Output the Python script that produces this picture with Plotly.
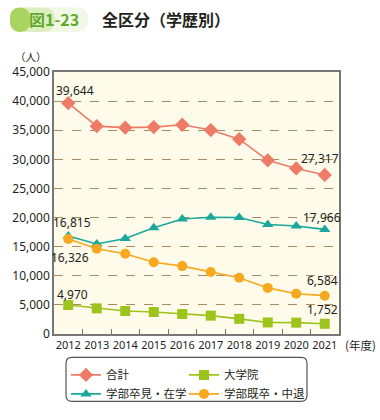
import plotly.graph_objects as go

years = ["2012", "2013", "2014", "2015", "2016", "2017", "2018", "2019", "2020", "2021"]
total = [39644, 35700, 35440, 35540, 35940, 35030, 33470, 29830, 28440, 27317]
graduate = [4970, 4400, 3940, 3780, 3440, 3150, 2600, 1980, 1950, 1752]
undergrad_new = [16815, 15470, 16410, 18250, 19760, 20050, 20000, 18820, 18540, 17966]
undergrad_old = [16326, 14630, 13790, 12330, 11660, 10650, 9650, 7920, 6910, 6584]

names = ["合計", "大学院", "学部卒見・在学", "学部既卒・中退"]
legend_ids = ["legend", "legend2", "legend", "legend2"]
colors = ["#EE7B66", "#9DC41C", "#1AA89C", "#F6A91E"]
symbols = ["diamond", "square", "triangle-up", "circle"]
sizes = [11, 10, 10, 10]
series = [total, graduate, undergrad_new, undergrad_old]

FONT = "Noto Sans CJK JP"
NUMFONT = "Noto Sans"
TXT = "#231F20"

W, H = 380, 420
l, r, t, b = 54, 41, 72, 80
pw, ph = W - l - r, H - t - b
def px(x): return (x - l) / pw        # page x -> paper
def py(y): return (H - b - y) / ph    # page y -> paper

fig = go.Figure()
for nm, lg, c, s, sz, vals in zip(names, legend_ids, colors, symbols, sizes, series):
    fig.add_trace(go.Scatter(
        x=years, y=vals, name=nm, mode="lines+markers", legend=lg,
        line=dict(color=c, width=1.6),
        marker=dict(color=c, symbol=s, size=sz),
        hoverinfo="skip",
    ))

def fmt(v):
    return f"{v:,}"

first, last = 0, len(years) - 1
labels = [
    (first, total[0], 7, 13),
    (last, total[-1], -5, 16),
    (first, undergrad_new[0], 4, 14),
    (first, undergrad_old[0], 2, -19),
    (last, undergrad_new[-1], -3, 12),
    (last, undergrad_old[-1], -2, 15),
    (last, graduate[-1], -2, 14),
    (first, graduate[0], 4, 11),
]
ann = []
for x, y, xs, ys in labels:
    ann.append(dict(x=x, y=y, xref="x", yref="y", text=fmt(y), showarrow=False,
                    xshift=xs, yshift=ys,
                    font=dict(family=NUMFONT, size=12, color=TXT)))

ann += [
    dict(xref="paper", yref="paper", x=px(31), y=py(56), xanchor="center", yanchor="middle",
         text="（人）", showarrow=False, font=dict(family=FONT, size=10.5, color=TXT)),
    dict(xref="paper", yref="paper", x=px(378), y=py(351), xanchor="right", yanchor="middle",
         text="(年度)", showarrow=False, font=dict(family=FONT, size=11.5, color=TXT)),
    dict(xref="paper", yref="paper", x=px(27), y=py(18), xanchor="left", yanchor="middle",
         text="<b>図1-23</b>", showarrow=False, font=dict(family=FONT, size=16, color="#5DAA2C")),
    dict(xref="paper", yref="paper", x=px(100), y=py(18), xanchor="left", yanchor="middle",
         text="<b>全区分（学歴別）</b>", showarrow=False, font=dict(family=FONT, size=16, color=TXT)),
]

leg_common = dict(orientation="v", yanchor="top", xanchor="left", bgcolor="rgba(0,0,0,0)",
                  font=dict(family=FONT, size=11.5, color=TXT), itemwidth=30,
                  tracegroupgap=0, borderwidth=0)

def rrect(x0, y0, x1, y1, rad):
    return (f"M {px(x0+rad)},{py(y0)} L {px(x1-rad)},{py(y0)} Q {px(x1)},{py(y0)} {px(x1)},{py(y0+rad)} "
            f"L {px(x1)},{py(y1-rad)} Q {px(x1)},{py(y1)} {px(x1-rad)},{py(y1)} "
            f"L {px(x0+rad)},{py(y1)} Q {px(x0)},{py(y1)} {px(x0)},{py(y1-rad)} "
            f"L {px(x0)},{py(y0+rad)} Q {px(x0)},{py(y0)} {px(x0+rad)},{py(y0)} Z")

shapes = [
    dict(type="path", xref="paper", yref="paper", path=rrect(66, 364, 307, 409, 6),
         line=dict(color="#555", width=1.2), fillcolor="rgba(0,0,0,0)"),
    dict(type="path", xref="paper", yref="paper", layer="below",
         path=rrect(10, 6, 88, 31, 12), line=dict(width=0), fillcolor="#F1F8E6"),
    dict(type="path", xref="paper", yref="paper", layer="below",
         path=rrect(10, 6, 55, 31, 12), line=dict(width=0), fillcolor="#DDEEC0"),
    dict(type="path", xref="paper", yref="paper", layer="below",
         path=rrect(10, 6, 30, 31, 11), line=dict(width=0), fillcolor="#A9D462"),
]

fig.update_layout(
    width=W, height=H,
    margin=dict(l=l, r=r, t=t, b=b),
    paper_bgcolor="white",
    plot_bgcolor="#FEFBEA",
    font=dict(family=FONT, size=12, color=TXT),
    showlegend=True,
    hovermode=False,
    legend=dict(x=px(66), y=py(367), **leg_common),
    legend2=dict(x=px(184), y=py(367), **leg_common),
    xaxis=dict(type="category", tickson="boundaries", ticks="inside", ticklen=5,
               tickcolor="#777", showgrid=False, showline=True, linecolor="#777",
               linewidth=1.5, mirror=True, tickangle=0,
               tickfont=dict(family=NUMFONT, size=11, color=TXT),
               range=[-0.5, 9.5]),
    yaxis=dict(range=[0, 45000], dtick=5000, tickformat=",", showgrid=True,
               gridcolor="#A88C62", griddash="dash", gridwidth=1, showline=True,
               linecolor="#777", linewidth=1.5, mirror=True, ticks="",
               zeroline=False, tickfont=dict(family=NUMFONT, size=12, color=TXT)),
    annotations=ann,
    shapes=shapes,
)

fig.write_html("out.html", config={"displayModeBar": False},
               post_script="document.body.style.margin='0';document.body.style.overflow='hidden';")
